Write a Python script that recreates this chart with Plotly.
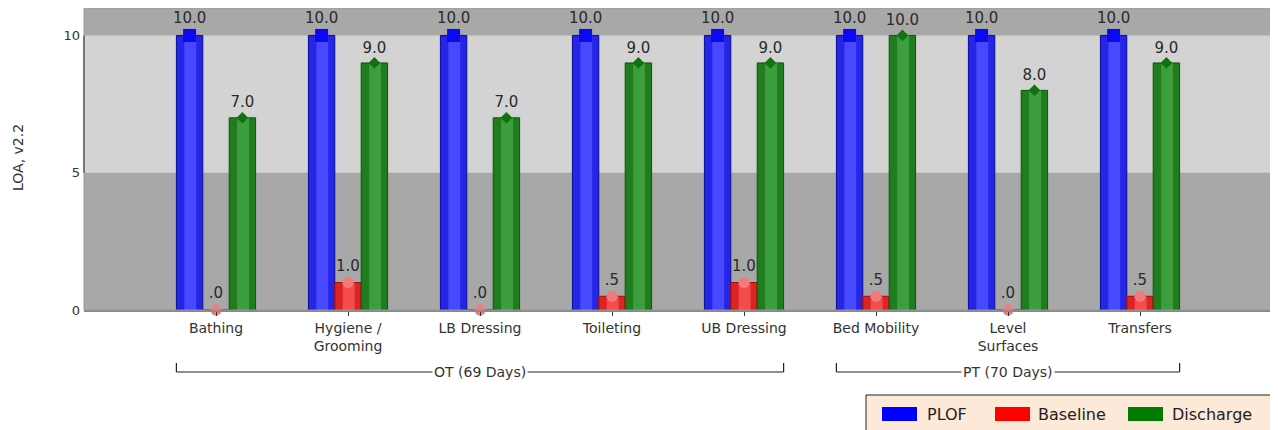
import plotly.graph_objects as go

categories = ["Bathing", "Hygiene /<br>Grooming", "LB Dressing", "Toileting",
              "UB Dressing", "Bed Mobility", "Level<br>Surfaces", "Transfers"]
plof = [10, 10, 10, 10, 10, 10, 10, 10]
baseline = [0, 1, 0, 0.5, 1, 0.5, 0, 0.5]
discharge = [7, 9, 7, 9, 9, 10, 8, 9]
y_ticks = [0, 5, 10]
groups = [("OT (69 Days)", 0, 4), ("PT (70 Days)", 5, 7)]
series_names = ["PLOF", "Baseline", "Discharge"]


def fmt(v):
    s = f"{v:.1f}"
    return s[1:] if s.startswith("0") else s


x = list(range(len(categories)))
W = 0.2
series = [
    (plof, -0.3, "#2525e6", "#4848ff", "#0a0a9a", "#0a0af0", "square", 13),
    (baseline, -0.1, "#dd2424", "#f24c4c", "#9a0e0e", "#f47a7a", "circle", 11),
    (discharge, 0.1, "#1f7d1f", "#3c9e3c", "#0c560c", "#127212", "diamond", 9),
]

fig = go.Figure()
for (vals, off, col, hl, edge, mcol, sym, msz), name in zip(series, series_names):
    fig.add_trace(go.Bar(x=x, y=vals, width=W, offset=off, marker_color=col,
                         marker_line=dict(color=edge, width=1), name=name,
                         showlegend=False, hoverinfo="skip"))
    fig.add_trace(go.Bar(x=x, y=vals, width=W * 0.45, offset=off + W * 0.3,
                         marker_color=hl, marker_line_width=0, showlegend=False,
                         hoverinfo="skip"))
    fig.add_trace(go.Scatter(x=[xi + off + W / 2 for xi in x], y=vals,
                             mode="markers+text", text=[fmt(v) for v in vals],
                             textposition="top center",
                             textfont=dict(size=15, color="#2a2a2a"),
                             marker=dict(symbol=sym, size=msz, color=mcol,
                                         line=dict(width=0)),
                             showlegend=False, hoverinfo="skip", cliponaxis=False))

# pixel -> paper helpers (window pixel positions of the reference)
pw, ph = 1188, 302
def px(xp):
    return (xp - 84) / pw
def py(yp):
    return (310 - yp) / ph

shapes = [
    dict(type="rect", xref="paper", yref="y", x0=0, x1=1, y0=5, y1=10,
         fillcolor="#d3d3d3", line_width=0, layer="below"),
    dict(type="line", xref="paper", yref="y", x0=0, x1=0, y0=5, y1=10,
         line=dict(color="#222222", width=1.5)),
    dict(type="line", xref="paper", yref="y", x0=1, x1=1, y0=5, y1=10,
         line=dict(color="#222222", width=1.5)),
    dict(type="rect", xref="paper", yref="paper", x0=0, x1=1, y0=0, y1=1,
         line=dict(color="#999999", width=1)),
    dict(type="line", xref="paper", yref="paper", x0=1, x1=1, y0=0, y1=py(314),
         line=dict(color="#333333", width=1)),
]
annotations = []
for label, a, b in groups:
    x0, x1 = a - 0.3, b + 0.3
    yb, yt = py(372), py(363)
    shapes += [
        dict(type="line", xref="x", yref="paper", x0=x0, x1=x1, y0=yb, y1=yb,
             line=dict(color="#222222", width=1.2)),
        dict(type="line", xref="x", yref="paper", x0=x0, x1=x0, y0=yb, y1=yt,
             line=dict(color="#222222", width=1.2)),
        dict(type="line", xref="x", yref="paper", x0=x1, x1=x1, y0=yb, y1=yt,
             line=dict(color="#222222", width=1.2)),
    ]
    annotations.append(dict(x=(a + b) / 2, y=yb, xref="x", yref="paper",
                            xanchor="center", yanchor="middle",
                            text=label, showarrow=False, bgcolor="white",
                            font=dict(size=14, color="#333333"), borderpad=1))

shapes.append(dict(type="rect", xref="paper", yref="paper", x0=px(866), x1=px(1277),
                   y0=py(440), y1=py(395), fillcolor="#fde9d8",
                   line=dict(color="#222222", width=1)))
leg_items = [(882, 925), (995, 1036), (1128, 1170)]
leg_colors = ["#0000ff", "#ff0000", "#007a00"]
for (rx, tx), c, name in zip(leg_items, leg_colors, series_names):
    shapes.append(dict(type="rect", xref="paper", yref="paper", x0=px(rx), x1=px(rx + 35),
                       y0=py(421), y1=py(407), fillcolor=c, line_width=0))
    annotations.append(dict(x=px(tx), y=py(414), xref="paper", yref="paper",
                            xanchor="left", yanchor="middle", text=name,
                            showarrow=False, font=dict(size=16, color="#222222")))

annotations.append(dict(x=px(18), y=py(158), xref="paper", yref="paper",
                        xanchor="center", yanchor="middle",
                        text="LOA, v2.2", textangle=-90, showarrow=False,
                        font=dict(size=14, color="#333333")))

fig.update_layout(
    width=1270, height=422,
    margin=dict(l=76, r=6, t=0, b=120),
    paper_bgcolor="white", plot_bgcolor="#a8a8a8",
    barmode="overlay",
    font=dict(family="DejaVu Sans", size=13, color="#333333"),
    shapes=shapes, annotations=annotations,
    xaxis=dict(range=[-1, 8], tickvals=x, ticktext=categories, showgrid=False,
               zeroline=False, ticks="outside", ticklen=4, tickcolor="#333333",
               showline=True, linecolor="#888888", linewidth=1.5,
               tickfont=dict(size=14, color="#333333"), automargin=False),
    yaxis=dict(range=[0, 11], tickvals=y_ticks, showgrid=False, zeroline=False,
               ticks="", tickfont=dict(size=13, color="#333333"), automargin=False,
               ticklabelstandoff=3),
)

fig.write_html("out.html")
